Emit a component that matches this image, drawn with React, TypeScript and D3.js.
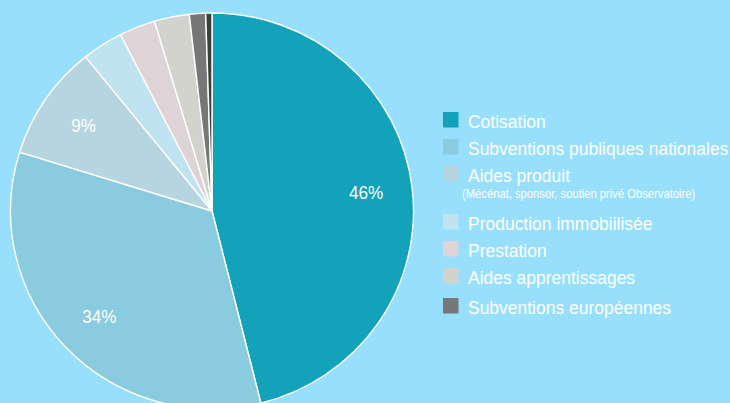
import React from "react";
import * as d3 from "d3";

const categories = [
  "Cotisation",
  "Subventions publiques nationales",
  "Aides produit",
  "Production immobiilisée",
  "Prestation",
  "Aides apprentissages",
  "Subventions européennes",
  "Autres",
];
const values = [46.1, 33.7, 9.4, 3.3, 2.9, 2.8, 1.3, 0.5];
const colors = [
  "#12A2BA",
  "#8BCBE0",
  "#B6D5E1",
  "#C0E3F1",
  "#DED4D7",
  "#D3D3CD",
  "#777777",
  "#3E3E3B",
];
const legendItems = [0, 1, 2, 3, 4, 5, 6];
const legendSub = "(Mécénat, sponsor, soutien privé Observatoire)";
const labelMin = 5;

const W = 730;
const H = 403;
const BG = "#97DFFD";

export default function App() {
  const cx = 212;
  const cy = 211;
  const R = 201.5;
  const yScale = 198 / 201.5;

  const pie = d3
    .pie<number>()
    .sort(null)
    .value((d) => d);
  const arcs = pie(values);
  const arc = d3.arc<d3.PieArcDatum<number>>().innerRadius(0).outerRadius(R);
  const labelArc = d3
    .arc<d3.PieArcDatum<number>>()
    .innerRadius(R * 0.77)
    .outerRadius(R * 0.77);
  const total = d3.sum(values);

  // legend layout
  const lx = 443;
  const rowY: number[] = [];
  let y = 112;
  legendItems.forEach((i) => {
    rowY.push(y);
    y += i === 2 ? 48 : i === 5 ? 30 : 27;
  });

  const font = "'Liberation Sans', Arial, sans-serif";

  return (
    <svg
      width={W}
      height={H}
      style={{ position: "absolute", left: 0, top: 0, display: "block" }}
    >
      <rect x={0} y={0} width={W} height={H} fill={BG} />
      <g transform={`translate(${cx},${cy}) scale(1,${yScale})`}>
        {arcs.map((a, i) => (
          <path
            key={i}
            d={arc(a) || ""}
            fill={colors[i]}
            stroke="#ffffff"
            strokeWidth={1.4}
            strokeLinejoin="round"
          />
        ))}
      </g>
      <g>
        {arcs.map((a, i) => {
          const pct = (a.value / total) * 100;
          if (pct < labelMin) return null;
          const [x0, y0] = labelArc.centroid(a);
          return (
            <text
              key={i}
              transform={`translate(${cx + x0},${cy + y0 * yScale}) scale(0.9,1)`}
              textAnchor="middle"
              dy="0.36em"
              fill="#ffffff"
              fontFamily={font}
              fontSize={19}
            >
              {Math.round(pct)}%
            </text>
          );
        })}
      </g>
      <g>
        {legendItems.map((i, k) => (
          <g key={i}>
            <rect
              x={lx}
              y={rowY[k]}
              width={15.5}
              height={15.5}
              fill={colors[i]}
            />
            <text
              transform={`translate(${lx + 25},${rowY[k] + 16}) scale(0.92,1)`}
              fill="#ffffff"
              fontFamily={font}
              fontSize={19}
            >
              {categories[i]}
            </text>
            {i === 2 && (
              <text
                transform={`translate(${lx + 19},${rowY[k] + 32}) scale(0.92,1)`}
                fill="#ffffff"
                fontFamily={font}
                fontSize={12.2}
              >
                {legendSub}
              </text>
            )}
          </g>
        ))}
      </g>
    </svg>
  );
}
